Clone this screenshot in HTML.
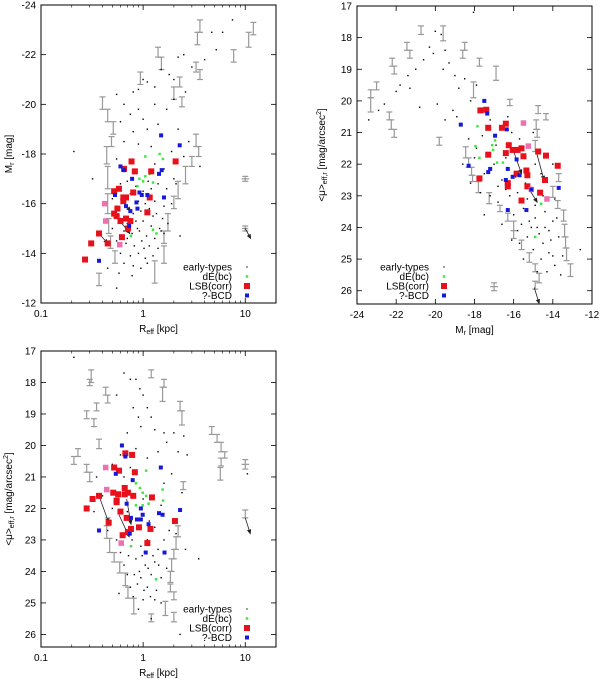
<!DOCTYPE html>
<html><head><meta charset="utf-8"><style>
body{margin:0;background:#fff;}
svg{display:block;font-family:"Liberation Sans",sans-serif;}
</style></head><body>
<svg id="c" width="600" height="679" xmlns="http://www.w3.org/2000/svg"></svg>
<script>
// ---------- Panel 1: R_eff vs M_r ----------
const p1Dots=[[0.21,-18.1],[0.32,-17.0],[0.55,-20.4],[0.65,-20.0],[0.80,-20.5],[0.90,-20.6],[1.0,-21.0],[1.1,-20.9],[1.3,-20.7],[1.5,-21.4],[1.8,-21.2],[2.0,-21.0],[2.2,-21.9],[2.5,-22.0],[3.0,-21.5],[4.7,-22.9],[5.2,-22.2],[6.0,-22.9],[7.5,-23.4],[4.0,-21.8],[2.6,-20.5],[2.0,-20.2],[1.7,-19.8],[1.3,-20.0],[1.0,-19.4],[0.9,-19.8],[0.75,-19.6],[0.6,-19.3],[0.8,-18.9],[1.1,-19.0],[1.4,-19.2],[2.2,-19.0],[2.8,-18.5],[3.6,-17.5],[2.5,-17.9],[1.9,-18.1],[1.2,-18.3],[0.9,-18.4],[0.65,-18.5],[0.55,-17.8],[0.6,-16.8],[0.7,-16.9],[0.85,-16.7],[1.0,-16.5],[1.2,-16.6],[1.4,-16.8],[1.7,-16.6],[2.1,-16.8],[0.5,-16.2],[0.62,-16.3],[0.9,-16.1],[1.05,-16.0],[1.3,-16.1],[1.6,-15.9],[1.9,-16.0],[0.55,-15.9],[0.72,-15.8],[0.8,-15.6],[0.95,-15.7],[1.15,-15.8],[1.35,-15.6],[1.55,-15.4],[0.6,-15.4],[0.7,-15.2],[0.85,-15.3],[1.0,-15.3],[1.2,-15.1],[1.45,-15.0],[1.75,-15.2],[0.5,-15.0],[0.65,-14.9],[0.78,-14.8],[0.92,-14.9],[1.08,-14.7],[1.3,-14.6],[1.6,-14.8],[0.55,-14.5],[0.68,-14.4],[0.82,-14.3],[0.97,-14.5],[1.15,-14.3],[1.4,-14.2],[0.6,-14.0],[0.75,-13.9],[0.9,-14.0],[1.05,-13.8],[1.25,-13.9],[0.65,-13.6],[0.8,-13.5],[0.95,-13.4],[1.1,-13.6],[0.58,-13.2],[0.78,-13.1],[0.55,-12.6],[2.3,-14.7],[0.45,-13.4],[1.5,-14.9],[0.88,-15.0],[1.02,-14.2],[0.7,-14.6],[1.25,-15.5],[0.92,-16.4],[1.12,-16.9],[0.75,-16.4],[1.6,-17.4],[2.0,-17.0],[1.3,-17.6]];
const p1Bars=[[0.40,-20.3,-19.8],[0.45,-19.8,-19.3],[0.51,-19.3,-18.8],[0.49,-18.7,-18.3],[0.44,-18.3,-17.6],[0.45,-17.5,-16.6],[0.45,-16.4,-15.6],[0.46,-15.4,-14.8],[0.48,-14.7,-14.2],[0.53,-14.1,-13.6],[0.37,-13.2,-12.7],[0.94,-21.3,-20.8],[1.40,-22.3,-21.9],[1.51,-21.9,-21.4],[2.28,-21.1,-20.7],[2.4,-20.3,-19.9],[2.0,-20.7,-20.2],[3.3,-21.7,-21.3],[3.6,-21.4,-21.0],[3.6,-23.4,-22.9],[3.4,-22.9,-22.4],[7.7,-22.2,-21.7],[10.8,-22.9,-22.3],[12.0,-23.3,-22.8],[3.3,-18.8,-18.3],[3.5,-18.3,-17.9],[3.0,-17.9,-17.5],[2.6,-17.5,-16.8],[2.2,-16.9,-16.2],[2.0,-16.3,-15.8],[1.75,-15.6,-14.9],[1.6,-14.9,-14.4],[1.6,-14.3,-13.6],[1.3,-13.7,-12.8],[10,-17.1,-16.9],[10,-15.1,-14.9]];
const p1Red=[[0.77,-17.7],[0.65,-17.4],[0.83,-17.3],[1.2,-17.3],[2.08,-17.7],[0.52,-16.5],[0.58,-16.6],[0.68,-16.25],[0.64,-16.25],[0.80,-16.45],[1.16,-16.25],[0.64,-16.1],[0.56,-15.8],[0.52,-15.6],[0.55,-15.5],[0.60,-15.3],[0.68,-15.4],[0.75,-15.3],[1.1,-15.65],[0.71,-15.0],[0.62,-14.65],[0.37,-14.8],[0.45,-14.4],[0.31,-14.4],[0.27,-13.75]];
const p1Pink=[[0.42,-16.0],[0.43,-15.3],[0.59,-14.35]];
const p1Blue=[[1.5,-18.75],[2.28,-18.35],[0.60,-17.5],[0.65,-17.35],[0.78,-17.0],[1.43,-17.2],[1.52,-17.35],[0.53,-16.35],[0.92,-16.45],[0.97,-16.35],[1.1,-16.35],[0.68,-15.9],[0.86,-16.05],[0.75,-15.7],[0.88,-15.8],[1.6,-16.25],[0.73,-15.1],[0.37,-13.7]];
const p1Green=[[1.05,-17.9],[1.45,-18.0],[1.56,-17.8],[1.05,-17.1],[0.92,-17.0],[1.16,-17.2],[1.25,-16.85],[0.88,-16.7],[1.0,-16.9],[0.76,-14.7],[1.25,-14.95],[1.35,-14.8]];
const p1Arrows=[[0.37,-14.8,0.45,-14.4],[0.66,-16.0,0.75,-15.7],[0.62,-15.2,0.74,-14.8],[10,-15.0,11.3,-14.6]];
const p1HBars=[[9.2,10.9,-17.0],[9.3,10.7,-15.0]];
const p1YTicks=[-24,-22,-20,-18,-16,-14,-12];
const logTicks=[0.1,1,10];
const logTickLabels=["0.1","1","10"];

// ---------- Panel 2: M_r vs <mu> ----------
const p2Dots=[[-23.4,20.6],[-22.9,20.3],[-22.6,20.1],[-22.0,19.7],[-21.8,19.5],[-21.4,19.2],[-21.0,19.0],[-20.6,18.7],[-20.3,18.3],[-20.0,17.8],[-19.7,17.9],[-19.5,18.4],[-19.3,18.8],[-19.0,19.2],[-19.6,19.0],[-20.1,18.5],[-21.3,19.6],[-20.8,20.2],[-19.9,20.1],[-19.5,20.6],[-19.1,20.3],[-18.8,19.6],[-18.5,19.3],[-17.9,19.5],[-18.2,20.0],[-18.9,20.5],[-18.05,17.2],[-18.3,21.2],[-17.6,21.1],[-18.0,21.8],[-17.5,22.3],[-17.0,22.0],[-16.6,22.5],[-17.2,23.0],[-16.8,23.2],[-16.2,23.0],[-15.8,22.9],[-16.0,23.6],[-15.5,23.4],[-15.2,23.8],[-15.8,24.1],[-15.3,24.3],[-14.8,24.0],[-14.5,24.5],[-15.0,24.7],[-14.6,25.0],[-14.2,24.8],[-13.9,25.2],[-14.3,25.4],[-13.7,24.3],[-14.0,23.8],[-14.4,23.5],[-14.9,23.3],[-15.4,22.6],[-16.4,21.8],[-16.9,21.4],[-15.7,21.2],[-15.0,21.0],[-14.6,22.3],[-13.9,23.1],[-13.5,24.9],[-12.6,24.7],[-13.6,25.5],[-14.8,25.4],[-15.5,25.0],[-16.1,24.4],[-16.6,23.9],[-17.5,23.6],[-18.2,22.6],[-18.6,22.0],[-16.3,20.5],[-17.2,20.6],[-14.0,22.0],[-15.1,24.0],[-14.7,24.2],[-14.1,24.4],[-13.8,23.7],[-15.6,23.9],[-16.4,22.8],[-15.9,22.4],[-14.9,22.0],[-17.9,21.5],[-16.1,21.0],[-14.5,23.0],[-14.2,24.1],[-15.3,23.1],[-14.9,23.7],[-14.4,24.0],[-15.7,24.5],[-14.0,24.9],[-16.8,22.7],[-17.7,22.9]];
const p2Bars=[[-20.73,17.63,17.9],[-19.6,17.63,18.1],[-21.45,18.15,18.4],[-21.3,18.4,18.65],[-22.2,18.65,18.9],[-22.1,18.9,19.15],[-23.0,19.4,19.65],[-23.3,19.65,19.9],[-23.3,19.9,20.35],[-22.35,20.35,20.6],[-22.25,20.6,20.9],[-22.1,20.9,21.15],[-19.8,21.15,21.4],[-18.5,18.15,18.4],[-18.6,18.4,18.65],[-17.75,18.65,18.9],[-16.9,18.9,19.35],[-18.05,19.4,19.9],[-16.2,19.95,20.15],[-14.75,20.15,20.4],[-14.35,20.4,20.6],[-14.85,20.6,20.9],[-14.8,20.9,21.15],[-14.9,21.25,21.6],[-18.45,21.45,21.8],[-18.3,21.8,22.1],[-18.15,22.1,22.35],[-18.1,22.35,22.55],[-17.8,22.55,22.9],[-17.25,22.9,23.25],[-16.7,23.3,23.5],[-16.3,23.55,23.8],[-16.0,23.8,24.1],[-16.0,24.1,24.35],[-15.6,24.4,24.7],[-15.2,24.8,25.1],[-14.9,25.15,25.4],[-14.7,25.45,25.75],[-14.0,22.7,23.05],[-13.75,23.15,23.4],[-13.45,23.45,23.8],[-13.4,23.9,24.3],[-13.35,24.3,24.65],[-13.3,24.65,25.05],[-13.1,25.15,25.55],[-13.7,22.3,22.55],[-17.0,25.75,26.0],[-14.9,25.7,25.95]];
const p2Red=[[-17.7,20.3],[-17.4,20.28],[-17.3,20.85],[-16.4,20.72],[-16.6,20.85],[-17.3,21.7],[-16.25,21.4],[-16.4,21.65],[-16.05,21.55],[-15.8,21.55],[-15.6,21.5],[-15.5,21.75],[-14.75,21.6],[-14.35,21.73],[-13.75,22.05],[-15.35,22.2],[-15.85,22.3],[-17.75,22.45],[-16.3,22.6],[-16.3,22.7],[-15.3,22.7],[-14.4,22.5],[-14.65,22.9],[-15.6,23.15],[-15.3,22.35]];
const p2Pink=[[-15.5,20.7],[-15.25,21.43],[-14.3,23.1],[-15.1,22.8]];
const p2Blue=[[-17.5,20.0],[-17.35,20.4],[-18.7,20.75],[-16.35,20.9],[-16.95,21.1],[-15.85,21.85],[-18.3,22.05],[-17.2,22.15],[-17.3,22.25],[-16.3,22.15],[-16.05,22.4],[-15.7,22.35],[-16.4,22.5],[-15.1,22.8],[-13.7,22.75],[-16.3,23.45],[-15.35,23.45]];
const p2Green=[[-17.85,20.8],[-17.95,21.43],[-17.75,21.8],[-17.1,21.4],[-16.95,21.25],[-17.05,21.55],[-16.85,21.95],[-16.55,21.95],[-14.6,23.25],[-14.9,24.3]];
const p2Arrows=[[-14.85,21.6,-14.45,22.5],[-16.0,21.6,-15.6,22.3],[-15.2,22.8,-14.8,23.2],[-14.95,25.9,-14.7,26.4]];
const p2HBars=[[-17.2,-16.8,25.87]];
const p2XTicks=[-24,-22,-20,-18,-16,-14,-12];
const muTicks=[17,18,19,20,21,22,23,24,25,26];

// ---------- Panel 3: R_eff vs <mu> ----------
const p3Dots=[[0.21,17.2],[0.65,17.7],[0.75,17.9],[0.55,18.4],[0.85,17.9],[0.93,18.2],[1.0,18.4],[0.8,18.8],[1.1,18.8],[0.9,19.1],[1.2,19.1],[0.95,19.4],[0.7,19.6],[1.3,19.5],[1.6,19.6],[2.0,19.6],[2.5,19.7],[1.7,19.9],[2.2,20.2],[2.7,20.3],[1.4,20.2],[1.1,20.4],[0.85,20.1],[0.6,20.3],[0.5,20.6],[0.35,21.0],[0.4,21.6],[0.33,22.1],[0.5,22.0],[0.45,22.7],[0.55,23.0],[0.6,23.4],[0.65,23.8],[0.7,24.1],[0.75,24.5],[0.8,24.8],[0.9,25.2],[1.0,24.9],[1.1,24.5],[1.2,24.1],[1.3,23.7],[1.4,23.3],[1.6,23.0],[1.8,22.7],[2.1,22.8],[2.6,23.3],[3.5,23.6],[2.3,26.0],[1.2,25.5],[1.5,25.0],[1.35,24.6],[0.95,24.2],[0.85,23.6],[0.95,23.2],[1.1,23.0],[1.25,23.5],[1.5,24.2],[1.7,23.9],[0.78,23.0],[1.15,22.4],[1.3,22.6],[0.7,22.1],[1.0,21.7],[1.6,21.2],[1.9,20.9],[2.4,21.5],[0.65,21.0],[0.75,20.7],[1.5,21.9],[0.58,24.7],[10.5,20.9],[0.92,24.0],[1.05,23.8],[1.02,24.6],[0.88,24.4],[1.18,24.8],[0.98,23.5],[1.12,23.9],[0.82,24.1],[1.42,23.8],[0.72,23.5],[1.3,24.9]];
const p3Bars=[[0.31,17.6,18.0],[0.30,17.9,18.1],[0.43,18.15,18.4],[0.45,18.4,18.65],[0.35,18.65,18.9],[0.28,18.9,19.15],[0.33,19.15,19.4],[0.37,19.8,20.1],[0.23,20.1,20.35],[0.21,20.35,20.6],[0.28,20.6,20.85],[0.30,20.85,21.15],[0.45,22.3,22.55],[0.44,22.55,22.95],[0.47,22.95,23.4],[0.52,23.4,23.7],[0.59,23.7,24.05],[0.67,24.05,24.45],[0.71,24.5,24.85],[0.81,24.85,25.35],[1.2,17.6,17.85],[1.6,17.9,18.15],[1.55,18.15,18.6],[2.3,18.6,18.9],[2.4,18.9,19.35],[4.7,19.4,19.65],[5.3,19.65,19.9],[5.8,19.9,20.2],[6.3,20.2,20.4],[5.8,20.4,20.65],[5.7,20.7,21.1],[10,20.45,20.75],[10,22.05,22.3],[2.47,21.15,21.4],[2.2,22.55,22.9],[2.1,22.9,23.3],[2.0,23.3,23.6],[1.9,23.6,24.0],[1.85,24.0,24.35],[1.85,24.4,24.65],[2.0,24.65,24.9],[2.0,25.3,25.6],[1.2,25.35,25.6],[1.65,24.95,25.4]];
const p3Red=[[0.67,20.25],[0.78,20.3],[0.52,20.7],[0.58,20.8],[0.83,20.85],[0.66,21.35],[0.51,21.5],[0.57,21.55],[0.66,21.55],[0.71,21.5],[0.80,21.6],[1.22,21.65],[0.37,21.6],[0.32,21.7],[0.28,22.0],[0.55,21.75],[0.55,21.8],[0.60,22.1],[0.69,22.3],[0.46,22.45],[2.05,22.4],[0.91,22.6],[1.18,22.65],[0.76,22.65],[0.63,22.85],[0.71,22.75],[1.1,23.1]];
const p3Pink=[[0.43,20.7],[0.44,21.4],[0.61,23.1]];
const p3Blue=[[0.62,20.0],[0.67,20.35],[0.54,20.9],[0.79,21.1],[0.69,21.85],[0.76,22.3],[0.95,22.0],[0.99,22.2],[0.87,22.35],[0.95,22.35],[1.43,22.15],[1.55,22.2],[1.49,20.7],[2.3,22.05],[1.13,22.5],[0.74,22.8],[0.37,22.7],[1.06,23.4],[1.62,23.4]];
const p3Green=[[1.07,20.8],[0.85,21.2],[0.93,21.35],[0.99,21.5],[1.07,21.6],[0.85,21.9],[0.99,21.9],[1.13,21.85],[1.55,21.4],[1.57,21.75],[0.76,23.2],[1.34,24.25]];
const p3Arrows=[[0.37,21.6,0.46,22.45],[0.69,21.7,0.76,22.5],[0.58,22.2,0.73,22.9],[10,22.3,11.2,22.8]];
const p3HBars=[[9.2,10.9,20.6]];
const legendLabels=["early-types","dE(bc)","LSB(corr)","?-BCD"];

const NS="http://www.w3.org/2000/svg";
const svg=document.getElementById('c');
function mk(tag,attrs,parent){const e=document.createElementNS(NS,tag);for(const k in attrs)e.setAttribute(k,attrs[k]);(parent||svg).appendChild(e);return e;}
function logScale(x0,x1,v0,v1){return v=>x0+(Math.log10(v)-Math.log10(v0))/(Math.log10(v1)-Math.log10(v0))*(x1-x0);}
function linScale(p0,p1,v0,v1){return v=>p0+(v-v0)/(v1-v0)*(p1-p0);}

function panel(cfg){
  const g=mk('g',{});
  
  
  const {L,R,T,B,sx,sy}=cfg;
  const plot=mk('rect',{x:L,y:T,width:R-L,height:B-T,fill:'none',stroke:'#000','stroke-width':1},g);
  
  
  const xt=mk('g',{},g);
  
  
  cfg.xTicks.forEach((v,i)=>{const x=sx(v);
    mk('line',{x1:x,x2:x,y1:B,y2:B-5,stroke:'#000','stroke-width':0.8},xt);
    mk('line',{x1:x,x2:x,y1:T,y2:T+5,stroke:'#000','stroke-width':0.8},xt);
    const t=mk('text',{x:x,y:B+14,'font-size':10,'text-anchor':'middle',fill:'#000'},xt);t.textContent=cfg.xLabels[i];
    
    });
  if(cfg.logX){for(let d=0.1;d<20;d*=10)for(let k=2;k<=9;k++){const v=d*k;if(v>cfg.xmax)continue;const x=sx(v);
    mk('line',{x1:x,x2:x,y1:B,y2:B-2.5,stroke:'#000','stroke-width':0.6},xt);
    mk('line',{x1:x,x2:x,y1:T,y2:T+2.5,stroke:'#000','stroke-width':0.6},xt);}}
  const yt=mk('g',{},g);
  
  
  cfg.yTicks.forEach(v=>{const y=sy(v);
    mk('line',{x1:L,x2:L+5,y1:y,y2:y,stroke:'#000','stroke-width':0.8},yt);
    mk('line',{x1:R,x2:R-5,y1:y,y2:y,stroke:'#000','stroke-width':0.8},yt);
    const t=mk('text',{x:L-5,y:y+3.5,'font-size':10,'text-anchor':'end',fill:'#000'},yt);t.textContent=String(v);
    
    });
  const xl=mk('text',{x:(L+R)/2,y:B+29,'font-size':10,'text-anchor':'middle'},g);
  xl.innerHTML=cfg.xTitle;
  
  
  const yl=mk('text',{x:0,y:0,'font-size':10,'text-anchor':'middle',transform:`translate(${cfg.yTitleX},${(T+B)/2}) rotate(-90)`},g);
  yl.innerHTML=cfg.yTitle;
  
  
  const eb=mk('g',{stroke:'#999','stroke-width':1.2},g);
  
  
  cfg.bars.forEach(b=>{const x=sx(b[0]),y1=sy(b[1]),y2=sy(b[2]);
    mk('line',{x1:x,x2:x,y1:y1,y2:y2},eb);mk('line',{x1:x-3,x2:x+3,y1:y1,y2:y1},eb);mk('line',{x1:x-3,x2:x+3,y1:y2,y2:y2},eb);});
  cfg.hbars.forEach(h=>{const y=sy(h[2]);mk('line',{x1:sx(h[0]),x2:sx(h[1]),y1:y,y2:y},eb);});
  const ed=mk('g',{fill:'#000'},g);
  
  
  cfg.dots.forEach(p=>{mk('rect',{x:sx(p[0])-0.7,y:sy(p[1])-0.7,width:1.4,height:1.4},ed);});
  const ar=mk('g',{stroke:'#222','stroke-width':0.8},g);
  
  
  cfg.arrows.forEach(a=>{const x1=sx(a[0]),y1=sy(a[1]),x2=sx(a[2]),y2=sy(a[3]);
    mk('line',{x1,y1,x2,y2},ar);const ang=Math.atan2(y2-y1,x2-x1),h=4;
    mk('polygon',{points:`${x2},${y2} ${x2-h*Math.cos(ang-0.4)},${y2-h*Math.sin(ang-0.4)} ${x2-h*Math.cos(ang+0.4)},${y2-h*Math.sin(ang+0.4)}`,fill:'#222'},ar);});
  function squares(pts,size,color,name){const s=mk('g',{fill:color},g);
    
    
    pts.forEach(p=>mk('rect',{x:sx(p[0])-size/2,y:sy(p[1])-size/2,width:size,height:size},s));}
  squares(cfg.green,2.5,'#3ee83e','dEbc-series');
  squares(cfg.red,6,'#e8101a','lsb-corr-series');
  squares(cfg.pink,5.5,'#ee70b0','lsb-pink-series');
  squares(cfg.blue,4,'#1818d8','bcd-series');
  const lg=mk('g',{},g);
  
  
  const colors=['#000','#3ee83e','#e8101a','#1818d8'],sizes=[1.2,2.5,6,4];
  legendLabels.forEach((lab,i)=>{const y=cfg.legY+i*9.5;
    const t=mk('text',{x:cfg.legX,y:y+3.5,'font-size':10,'text-anchor':'end'},lg);t.textContent=lab;
    
    
    mk('rect',{x:cfg.legX+15-sizes[i]/2,y:y-sizes[i]/2,width:sizes[i],height:sizes[i],fill:colors[i]},lg);});
}

const muTitle='&lt;μ&gt;<tspan font-size="7" dy="2">eff,r</tspan><tspan dy="-2"> [mag/arcsec</tspan><tspan font-size="7" dy="-4">2</tspan><tspan dy="4">]</tspan>';
const rTitle='R<tspan font-size="7" dy="2">eff</tspan><tspan dy="-2"> [kpc]</tspan>';
const mTitle='M<tspan font-size="7" dy="2">r</tspan><tspan dy="-2"> [mag]</tspan>';

{const L=41,R=276,T=5,B=303;
panel({name:'panel-size-luminosity',L,R,T,B,logX:true,xmax:20,
 sx:logScale(L,R,0.1,20),sy:linScale(T,B,-24,-12),
 xTicks:logTicks,xLabels:logTickLabels,yTicks:p1YTicks,
 xTitle:rTitle,yTitle:mTitle,yTitleX:12,
 bars:p1Bars,hbars:p1HBars,dots:p1Dots,red:p1Red,pink:p1Pink,blue:p1Blue,green:p1Green,arrows:p1Arrows,
 legX:232,legY:267});}
{const L=357,R=592,T=6,B=304;
panel({name:'panel-luminosity-surface-brightness',L,R,T,B,logX:false,
 sx:linScale(L,R,-24,-12),sy:linScale(T,B,17,26.42),
 xTicks:p2XTicks,xLabels:p2XTicks.map(String),yTicks:muTicks,
 xTitle:mTitle,yTitle:muTitle,yTitleX:325,
 bars:p2Bars,hbars:p2HBars,dots:p2Dots,red:p2Red,pink:p2Pink,blue:p2Blue,green:p2Green,arrows:p2Arrows,
 legX:429,legY:267});}
{const L=41,R=276,T=351,B=647;
panel({name:'panel-size-surface-brightness',L,R,T,B,logX:true,xmax:20,
 sx:logScale(L,R,0.1,20),sy:linScale(T,B,17,26.4),
 xTicks:logTicks,xLabels:logTickLabels,yTicks:muTicks,
 xTitle:rTitle,yTitle:muTitle,yTitleX:12,
 bars:p3Bars,hbars:p3HBars,dots:p3Dots,red:p3Red,pink:p3Pink,blue:p3Blue,green:p3Green,arrows:p3Arrows,
 legX:232,legY:609});}
</script>
</body></html>
